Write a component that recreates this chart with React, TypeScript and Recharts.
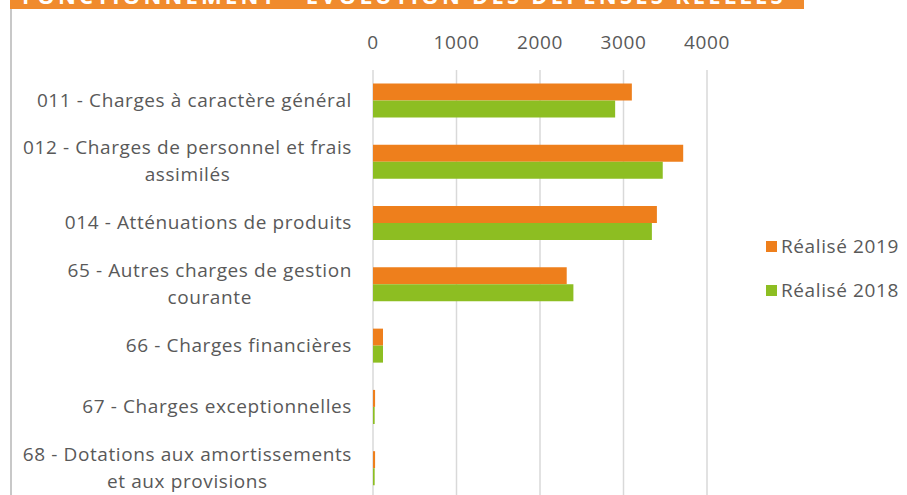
import { BarChart, Bar, XAxis, YAxis, CartesianGrid, Legend } from 'recharts';

const categories = [
  '011 - Charges à caractère général',
  '012 - Charges de personnel et frais\nassimilés',
  '014 - Atténuations de produits',
  '65 - Autres charges de gestion\ncourante',
  '66 - Charges financières',
  '67 - Charges exceptionnelles',
  '68 - Dotations aux amortissements\net aux provisions',
];
const realise2019 = [3100, 3715, 3400, 2320, 120, 25, 25];
const realise2018 = [2900, 3470, 3340, 2400, 120, 20, 20];
const xTicks = [0, 1000, 2000, 3000, 4000];

const FONT = '"Open Sans", sans-serif';
const FONT_SIZE = 19;
const LS = 0.6;
const TEXT = '#595959';
const ORANGE = '#EE7F1C';
const GREEN = '#8DBE22';

const data = categories.map((name, i) => ({
  name,
  r2019: realise2019[i],
  r2018: realise2018[i],
}));

let ctx: CanvasRenderingContext2D | null = null;
function measure(s: string) {
  if (!ctx) ctx = document.createElement('canvas').getContext('2d');
  if (!ctx) return s.length * 9;
  ctx.font = `${FONT_SIZE}px "Open Sans"`;
  return ctx.measureText(s).width + s.length * LS;
}

function CategoryTick(props: any) {
  const { x, y, payload } = props;
  const lines: string[] = String(payload.value).split('\n');
  const maxW = Math.max(...lines.map(measure));
  const cx = x - maxW / 2;
  const lh = 27;
  const start = y - ((lines.length - 1) * lh) / 2;
  return (
    <g>
      {lines.map((l, i) => (
        <text
          key={i}
          x={cx}
          y={start + i * lh}
          dy={6}
          textAnchor="middle"
          fill={TEXT}
          fontSize={FONT_SIZE}
          fontFamily={FONT}
          letterSpacing={LS}
        >
          {l}
        </text>
      ))}
    </g>
  );
}

function LegendContent() {
  const items = [
    { label: 'Réalisé 2019', color: ORANGE },
    { label: 'Réalisé 2018', color: GREEN },
  ];
  return (
    <div>
      {items.map((it) => (
        <div key={it.label} style={{ display: 'flex', alignItems: 'center', height: 44 }}>
          <span style={{ width: 11, height: 11, background: it.color, marginRight: 4 }} />
          <span style={{ color: TEXT, fontSize: FONT_SIZE, fontFamily: FONT, letterSpacing: LS }}>{it.label}</span>
        </div>
      ))}
    </div>
  );
}

export default function App() {
  return (
    <div style={{ position: 'absolute', left: 0, top: 0, width: 907, height: 495, overflow: 'hidden', background: '#fff' }}>
      {/* banner, cut by the top of the picture */}
      <div style={{ position: 'absolute', left: 10, top: 0, width: 794, height: 9, background: '#F08B2D', overflow: 'hidden' }}>
        <div
          style={{
            position: 'absolute',
            left: 12,
            top: -20,
            color: '#fff',
            fontFamily: '"Open Sans", sans-serif',
            fontWeight: 700,
            fontSize: 22,
            letterSpacing: 3.2,
            whiteSpace: 'nowrap',
          }}
        >
          FONCTIONNEMENT - EVOLUTION DES DEPENSES REELLES
        </div>
      </div>
      <div style={{ position: 'absolute', left: 10, top: 9, width: 2, height: 486, background: '#c8c8c8' }} />
      <BarChart
        width={907}
        height={500}
        data={data}
        layout="vertical"
        margin={{ top: 0, right: 200, bottom: 1, left: 0 }}
        barCategoryGap="22%"
        barGap={0}
      >
        <CartesianGrid vertical horizontal={false} stroke="#d9d9d9" strokeWidth={1.5} />
        <XAxis
          type="number"
          orientation="top"
          domain={[0, 4000]}
          ticks={xTicks}
          height={70}
          axisLine={false}
          tickLine={false}
          tickSize={0}
          tickMargin={21}
          tick={{ fill: TEXT, fontSize: FONT_SIZE, fontFamily: FONT, letterSpacing: LS }}
        />
        <YAxis
          type="category"
          dataKey="name"
          width={373}
          axisLine={false}
          tickLine={false}
          tickSize={0}
          tickMargin={21}
          interval={0}
          tick={<CategoryTick />}
        />
        <Legend
          layout="vertical"
          align="center"
          verticalAlign="middle"
          content={<LegendContent />}
          wrapperStyle={{ left: 766, top: 224, width: 141 }}
        />
        <Bar dataKey="r2019" name="Réalisé 2019" fill={ORANGE} isAnimationActive={false} />
        <Bar dataKey="r2018" name="Réalisé 2018" fill={GREEN} isAnimationActive={false} />
      </BarChart>
    </div>
  );
}
